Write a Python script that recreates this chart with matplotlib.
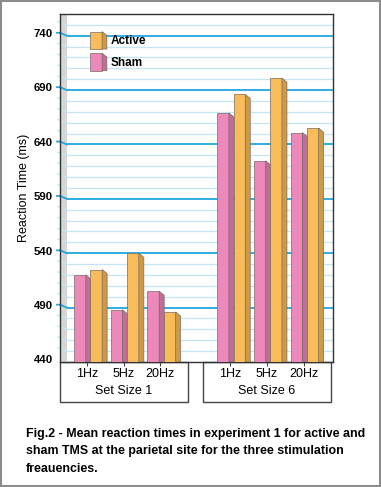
import numpy as np
import matplotlib.pyplot as plt
import matplotlib.transforms as mtransforms
from matplotlib.patches import Rectangle, Polygon
from matplotlib.legend_handler import HandlerBase

plt.rcParams['font.family'] = ['Liberation Sans', 'DejaVu Sans']

# data
groups = ['Set Size 1', 'Set Size 6']
freqs = ['1Hz', '5Hz', '20Hz']
tick_pos = [0, 1, 2, 3.9, 4.9, 5.9]
sham = [520, 488, 505, 669, 625, 651]
active = [525, 540, 486, 686, 701, 655]
yticks = [440, 490, 540, 590, 640, 690, 740]

pink, pink_side = '#EC89BA', '#BF6F97'
orange, orange_side = '#F8BD5A', '#CF9A45'
edge = '#7a6a60'
major_c, minor_c = '#1EA7E1', '#C3E5F5'

fig = plt.figure(figsize=(3.81, 4.87), dpi=100)
ax = fig.add_axes([60 / 381, 1 - 362 / 487, 273 / 381, 348 / 487])
ax.set_xlim(-0.736, 6.703)
ax.set_ylim(440, 760)

wall = 7 / 273
blend = mtransforms.blended_transform_factory(ax.transAxes, ax.transData)

# grid lines + slanted lines across the side wall
ax.add_patch(Rectangle((0, 0), wall, 1, transform=ax.transAxes,
                       fc='#d6d6d6', ec='none', zorder=2))
for v in range(450, 760, 10):
    is_major = (v - 440) % 50 == 0
    c = major_c if is_major else minor_c
    lw = 1.3 if is_major else 0.9
    ax.axhline(v, xmin=wall, color=c, lw=lw, zorder=1)
    if is_major:
        ax.plot([-0.011, 0, wall], [v + 2.7, v + 2.7, v], color=c, lw=lw,
                transform=blend, clip_on=False, zorder=2.5)
    else:
        ax.plot([-0.008, wall], [v + 3, v], color=c, lw=lw,
                transform=blend, clip_on=False, zorder=2.5)

# 3D-ish bars
pos = np.array(tick_pos)
w, depth, slope = 0.32, 0.136, 3.7
for vals, off, front, side, z in [(sham, -0.193, pink, pink_side, 3),
                                  (active, 0.252, orange, orange_side, 4)]:
    bars = ax.bar(pos + off, vals, width=w, color=front, edgecolor=edge,
                  linewidth=0.5, zorder=z)
    for b in bars:
        x1 = b.get_x() + b.get_width()
        top = b.get_height()
        ax.fill([x1, x1, x1 + depth, x1 + depth], [440, top, top - slope, 440],
                color=side, ec=edge, lw=0.5, zorder=z)

ax.set_yticks(yticks)
ax.tick_params(axis='y', length=0, pad=5, labelsize=8.2)
for lab in ax.get_yticklabels():
    lab.set_fontweight('bold')
    lab.set_transform(lab.get_transform() +
                      mtransforms.ScaledTranslation(0, 2.7 / 100, fig.dpi_scale_trans))
ax.set_ylabel('Reaction Time (ms)', fontsize=9, labelpad=3)

ax.set_xticks(tick_pos, freqs * 2)
ax.tick_params(axis='x', length=3, color='#444', labelsize=9, pad=1.5)

for s in ax.spines.values():
    s.set_color('#333333')
    s.set_linewidth(1)

# group boxes under the axis
xbl = mtransforms.blended_transform_factory(ax.transData, ax.transAxes)
for i, g in enumerate(groups):
    c = np.mean(tick_pos[i * 3:i * 3 + 3])
    ax.add_patch(Rectangle((c - 1.745, -0.115), 3.49, 0.115, transform=xbl,
                           fill=False, ec='#444444', lw=1, clip_on=False))
    ax.text(c, -0.082, g, transform=xbl, ha='center', va='center', fontsize=9)


class Box3D(HandlerBase):
    def __init__(self, front, side):
        super().__init__()
        self.front = front
        self.side = side

    def create_artists(self, legend, orig_handle, xdescent, ydescent,
                       width, height, fontsize, trans):
        d = width * 0.28
        fw = width - d
        x0, y0 = -xdescent, -ydescent
        r = Rectangle((x0, y0), fw, height, fc=self.front, ec=edge, lw=0.5,
                      transform=trans)
        s = Polygon([(x0 + fw, y0), (x0 + fw, y0 + height),
                     (x0 + width, y0 + height - d * 0.8), (x0 + width, y0)],
                    fc=self.side, ec=edge, lw=0.5, transform=trans)
        return [r, s]


h_act = Rectangle((0, 0), 1, 1)
h_sham = Rectangle((0, 0), 1, 1)
leg = ax.legend([h_act, h_sham], ['Active', 'Sham'], loc='upper left',
                bbox_to_anchor=(0.07, 0.98), frameon=False,
                handlelength=1.45, handleheight=1.9, handletextpad=0.3,
                labelspacing=0.35, prop={'weight': 'bold', 'size': 8.5},
                handler_map={h_act: Box3D(orange, orange_side),
                             h_sham: Box3D(pink, pink_side)})
leg.set_zorder(6)

caption = ('Fig.2 - Mean reaction times in experiment 1 for active and\n'
           'sham TMS at the parietal site for the three stimulation\n'
           'freauencies.')
fig.text(26 / 381, 1 - 428 / 487, caption, fontsize=8.9, fontweight='bold',
         va='top', ha='left', linespacing=1.6)

fig.patches.append(Rectangle((0.002, 0.002), 0.996, 0.996, transform=fig.transFigure,
                             fill=False, ec='#8c8c8c', lw=1.5))

fig.savefig('out.png', dpi=100)
